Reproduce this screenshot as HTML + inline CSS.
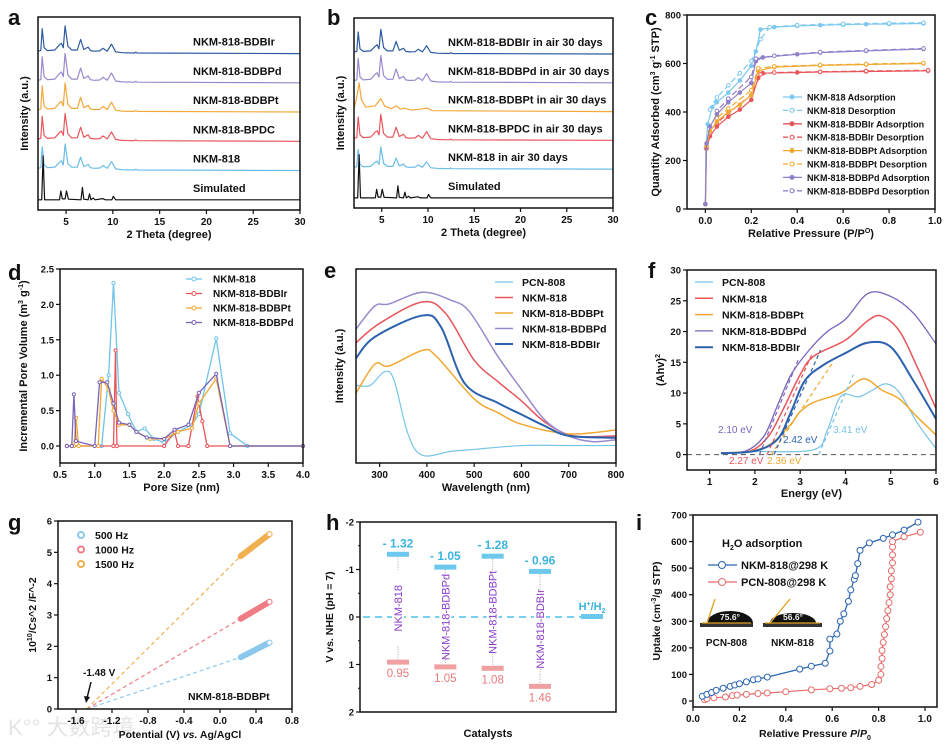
<!DOCTYPE html>
<html><head><meta charset="utf-8"><style>
body{margin:0;background:#fff}
svg{display:block;font-family:"Liberation Sans","Noto Sans CJK SC",sans-serif}
</style></head><body>
<svg id="fig" width="950" height="750" viewBox="0 0 950 750" xmlns="http://www.w3.org/2000/svg">
<text x="8" y="735" font-size="22" fill="#e4e4e4">K°° 大数跨境</text>
</svg>
<script>
// ---------- DATA ----------
const xrdMof=[[2.0,0.08],[2.3,0.1],[2.45,0.85],[2.65,0.2],[3.0,0.1],[3.8,0.12],[4.3,0.3],[4.5,0.35],[4.7,0.2],[4.9,0.95],[5.2,0.25],[5.6,0.12],[6.2,0.12],[6.55,0.48],[6.9,0.14],[7.35,0.22],[7.6,0.1],[8.0,0.08],[8.6,0.09],[8.95,0.18],[9.4,0.08],[9.85,0.32],[10.3,0.06],[11,0.03],[12.3,0.02],[12.45,0.05],[12.6,0.02],[30,0.0]];
const xrdSim=[[2.0,0],[2.4,0],[2.55,1.5],[2.7,0],[4.3,0],[4.45,0.3],[4.6,0.03],[4.9,0.03],[5.05,0.3],[5.25,0.02],[6.6,0],[6.75,0.42],[6.9,0.02],[7.35,0],[7.5,0.2],[7.65,0],[7.9,0.06],[8.1,0],[8.9,0.04],[9.2,0],[9.9,0],[10.05,0.12],[10.3,0],[30,0]];
const xrdBroad=[[2.0,0.1],[2.3,0.5],[2.55,1.0],[2.8,0.4],[3.3,0.15],[4.3,0.2],[4.9,0.45],[5.3,0.2],[6,0.1],[6.6,0.2],[7.0,0.08],[7.4,0.12],[8.2,0.05],[9.0,0.08],[9.9,0.12],[10.5,0.03],[30,0]];
const aNames=["NKM-818-BDBIr","NKM-818-BDBPd","NKM-818-BDBPt","NKM-818-BPDC","NKM-818","Simulated"];
const bNames=["NKM-818-BDBIr in air 30 days","NKM-818-BDBPd in air 30 days","NKM-818-BDBPt in air 30 days","NKM-818-BPDC in air 30 days","NKM-818 in air 30 days","Simulated"];
const aScale=[1.0,1.05,1.05,1.0,0.95,1.0];
const bScale=[0.9,1.0,1.0,0.95,0.8,1.0];
const xrdColors=["#2c5aa0","#9a88cc","#f2a93b","#e8575c","#6cbde8","#111"];
const xTicksA=[5,10,15,20,25,30];

const cNames=["NKM-818 Adsorption","NKM-818 Desorption","NKM-818-BDBIr Adsorption","NKM-818-BDBIr Desorption","NKM-818-BDBPt Adsorption","NKM-818-BDBPt Desorption","NKM-818-BDBPd Adsorption","NKM-818-BDBPd Desorption"];
const cNkmAds=[[0,20],[0.002,250],[0.01,350],[0.03,420],[0.05,440],[0.1,480],[0.15,530],[0.2,590],[0.22,650],[0.24,740],[0.3,750],[0.4,755],[0.5,758],[0.6,760],[0.7,762],[0.8,763],[0.95,765]];
const cNkmDes=[[0.95,768],[0.8,766],[0.6,763],[0.4,758],[0.28,750],[0.24,700],[0.2,610],[0.15,560],[0.1,510],[0.05,460],[0.02,410]];
const cIrAds=[[0,20],[0.005,250],[0.02,300],[0.05,340],[0.1,380],[0.15,410],[0.2,450],[0.23,540],[0.25,560],[0.4,563],[0.5,565],[0.7,567],[0.97,570]];
const cIrDes=[[0.97,572],[0.7,569],[0.5,566],[0.3,563],[0.24,555],[0.2,470],[0.1,395],[0.05,355]];
const cPtAds=[[0,20],[0.005,260],[0.02,320],[0.05,360],[0.1,400],[0.15,430],[0.2,470],[0.23,570],[0.3,585],[0.5,592],[0.7,596],[0.95,600]];
const cPtDes=[[0.95,602],[0.7,598],[0.5,594],[0.3,588],[0.23,580],[0.2,490],[0.1,415],[0.05,375]];
const cPdAds=[[0,20],[0.005,270],[0.02,340],[0.05,390],[0.1,440],[0.15,480],[0.2,520],[0.22,610],[0.25,625],[0.4,638],[0.5,645],[0.7,652],[0.95,660]];
const cPdDes=[[0.95,662],[0.7,654],[0.5,647],[0.3,632],[0.22,620],[0.2,545],[0.1,455],[0.05,405]];

const dNames=["NKM-818","NKM-818-BDBIr","NKM-818-BDBPt","NKM-818-BDBPd"];
const dNkm=[[0.6,0],[1.1,0],[1.2,1.0],[1.27,2.3],[1.35,0.75],[1.48,0.45],[1.6,0.2],[1.72,0.25],[1.85,0.1],[2.0,0.05],[2.2,0.2],[2.4,0.3],[2.5,0.45],[2.75,1.52],[2.95,0.18],[3.2,0],[4.0,0]];
const dIr=[[0.6,0],[1.27,0],[1.3,1.35],[1.32,0],[2.0,0],[2.15,0.2],[2.2,0],[2.35,0],[2.48,0.7],[2.55,0.35],[2.62,0],[4,0]];
const dPt=[[0.6,0],[0.7,0],[0.73,0.4],[0.77,0],[1.05,0],[1.1,0.95],[1.2,0.8],[1.27,0.5],[1.35,0.3],[1.5,0.3],[1.6,0.2],[1.8,0.1],[2.0,0.1],[2.2,0.2],[2.4,0.25],[2.5,0.6],[2.75,0.95],[2.95,0],[4,0]];
const dPd=[[0.6,0],[0.67,0],[0.7,0.73],[0.73,0.07],[1.0,0],[1.07,0.9],[1.18,0.9],[1.27,0.6],[1.35,0.33],[1.5,0.3],[1.6,0.2],[1.75,0.12],[2.0,0.1],[2.15,0.23],[2.35,0.3],[2.5,0.75],[2.75,1.02],[2.95,0],[4,0]];

const eNames=["PCN-808","NKM-818","NKM-818-BDBPt","NKM-818-BDBPd","NKM-818-BDBIr"];
const ePcn=[[250,40],[280,40],[310,47],[330,43],[360,15],[390,4],[450,6],[500,7],[600,9],[700,9],[800,9]];
const eNkm=[[250,62],[300,72],[390,83],[440,77],[500,53],[550,42],[600,32],[650,21],[710,14],[800,14]];
const ePt=[[250,36],[290,51],[320,50],[390,58],[420,55],[500,33],[550,26],[600,20],[700,15],[800,17]];
const ePd=[[250,69],[290,81],[320,82],[390,88],[450,84],[490,78],[550,55],[600,38],[650,22],[700,14],[750,11],[800,12]];
const eIr=[[250,54],[290,65],[390,76],[430,70],[480,41],[550,31],[600,25],[650,19],[700,14],[800,13]];

const fPcn=[[1.25,0.3],[2.0,0.5],[3.3,0.8],[3.6,4],[3.9,9.5],[4.3,9.4],[4.6,10.5],[4.9,11.5],[5.2,10],[5.6,5],[6,1]];
const fNkm=[[1.25,0.3],[1.9,0.6],[2.3,3],[2.6,7],[3.0,13],[3.3,16],[4.0,18.6],[4.5,21.8],[4.8,22.5],[5.2,20],[5.6,14],[6,7.5]];
const fPt=[[1.25,0.2],[2.0,0.7],[2.4,2],[2.8,5],[3.0,7],[3.3,8.5],[3.9,10],[4.4,12.3],[4.8,10.5],[5.2,9],[5.6,6],[6,3.2]];
const fPd=[[1.25,0.3],[1.8,0.6],[2.2,3],[2.5,8],[2.8,13],[3.2,17],[3.6,20],[4.0,22],[4.5,26.2],[5.0,25.7],[5.5,23],[6,18]];
const fIr=[[1.25,0.2],[2.0,0.6],[2.5,2.5],[2.8,7],[3.1,12],[3.5,14.5],[4.0,16.5],[4.5,18.2],[5.0,17.5],[5.5,12],[6,5.8]];
const fGaps=[2.10,2.27,2.36,2.42,3.41];
const fGapLabels=["2.10 eV","2.27 eV","2.36 eV","2.42 eV","3.41 eV"];

const gNames=["500 Hz","1000 Hz","1500 Hz"];
const gStart=[[0.23,1.65],[0.23,2.88],[0.23,4.88]];
const gEnd=[[0.55,2.12],[0.55,3.42],[0.55,5.58]];
const gIntercept=-1.48;

const hNames=["NKM-818","NKM-818-BDBPd","NKM-818-BDBPt","NKM-818-BDBIr"];
const hCB=[-1.32,-1.05,-1.28,-0.96];
const hVB=[0.95,1.05,1.08,1.46];
const hCBLabels=["- 1.32","- 1.05","- 1.28","- 0.96"];
const hVBLabels=["0.95","1.05","1.08","1.46"];

const iNkm=[[0.04,18],[0.06,25],[0.08,32],[0.1,40],[0.13,48],[0.16,55],[0.18,60],[0.2,65],[0.23,72],[0.26,80],[0.28,83],[0.32,90],[0.46,120],[0.51,131],[0.57,142],[0.59,188],[0.59,233],[0.62,252],[0.635,300],[0.65,328],[0.67,375],[0.68,418],[0.695,458],[0.7,472],[0.71,517],[0.72,567],[0.76,595],[0.82,612],[0.86,625],[0.91,643],[0.97,673]];
const iPcn=[[0.05,5],[0.06,9],[0.09,12],[0.14,15],[0.17,20],[0.19,22],[0.23,25],[0.28,28],[0.32,30],[0.4,35],[0.51,42],[0.59,46],[0.64,48],[0.68,50],[0.72,55],[0.77,62],[0.8,78],[0.81,100],[0.81,130],[0.815,160],[0.815,190],[0.82,220],[0.825,250],[0.83,280],[0.835,310],[0.84,340],[0.845,370],[0.85,400],[0.85,430],[0.855,460],[0.855,490],[0.86,520],[0.86,550],[0.86,580],[0.86,600],[0.91,618],[0.98,635]];

// ---------- HELPERS ----------
const NS='http://www.w3.org/2000/svg';
const svg=document.getElementById('fig');
function mk(tag,attrs,name,parent){
  const el=document.createElementNS(NS,tag);
  for(const k in attrs) el.setAttribute(k,attrs[k]);
  
  
  (parent||svg).appendChild(el);return el;
}
function tx(x,y,s,name,o){o=o||{};
  const el=mk('text',{x:x,y:y,'font-size':o.fs||10,'font-weight':o.fw||'bold',fill:o.fill||'#111','text-anchor':o.anchor||'start'},name);
  if(o.rot) el.setAttribute('transform','rotate('+o.rot+' '+x+' '+y+')');
  el.innerHTML=s;return el;}
function lin(d0,d1,r0,r1){return v=>r0+(v-d0)/(d1-d0)*(r1-r0);}
function frame(L,T,R,B,name){mk('rect',{x:L,y:T,width:R-L,height:B-T,fill:'none',stroke:'#111','stroke-width':1.5},name);}
function xt(sx,vals,labels,B,name){vals.forEach((v,i)=>{const x=sx(v);
  mk('line',{x1:x,y1:B,x2:x,y2:B+4,stroke:'#111','stroke-width':1.2},name+'-tick');
  tx(x,B+15,labels[i],name+'-label',{anchor:'middle'});});}
function yt(sy,vals,labels,L,name){vals.forEach((v,i)=>{const y=sy(v);
  mk('line',{x1:L-4,y1:y,x2:L,y2:y,stroke:'#111','stroke-width':1.2},name+'-tick');
  tx(L-6,y+3.5,labels[i],name+'-label',{anchor:'end',fs:9.5});});}
function ptsStr(p,sx,sy){return p.map(q=>sx(q[0]).toFixed(1)+','+sy(q[1]).toFixed(1)).join(' ');}
function pl(p,sx,sy,col,w,name,dash){const a={points:ptsStr(p,sx,sy),fill:'none',stroke:col,'stroke-width':w,'stroke-linejoin':'round'};if(dash)a['stroke-dasharray']=dash;return mk('polyline',a,name);}
function smooth(p,sx,sy,col,w,name){const P=p.map(q=>[sx(q[0]),sy(q[1])]);let d='M'+P[0][0]+','+P[0][1];
  for(let i=0;i<P.length-1;i++){const p0=P[Math.max(0,i-1)],p1=P[i],p2=P[i+1],p3=P[Math.min(P.length-1,i+2)];
   d+=' C'+(p1[0]+(p2[0]-p0[0])/6)+','+(p1[1]+(p2[1]-p0[1])/6)+' '+(p2[0]-(p3[0]-p1[0])/6)+','+(p2[1]-(p3[1]-p1[1])/6)+' '+p2[0]+','+p2[1];}
  return mk('path',{d:d,fill:'none',stroke:col,'stroke-width':w},name);}
function markers(p,sx,sy,col,r,fill,name){p.forEach(q=>mk('circle',{cx:sx(q[0]),cy:sy(q[1]),r:r,fill:fill?col:'#fff',stroke:col,'stroke-width':1},name));}
function letter(x,y,s){tx(x,y,s,'panel-label-'+s,{fs:22});}

// ---------- PANEL A & B ----------
function xrdPanel(L,T,R,B,names,scales,broadIdx,labX,pfx){
  const sx=lin(2,30,L,R), sy=lin(0,6.6,B,T);
  names.forEach((n,i)=>{const off=5.35-i;
    const base=(i===5)?xrdSim:(i===broadIdx?xrdBroad:xrdMof);
    const p=base.map(q=>[q[0],off+q[1]*scales[i]]);
    pl(p,sx,sy,xrdColors[i],1.2,pfx+'-trace-'+i);
    tx(labX,sy(off)-8,n,pfx+'-trace-label',{fs:11});});
  frame(L,T,R,B,pfx+'-plot-frame');
  xt(sx,xTicksA,xTicksA.map(String),B,pfx+'-x-tick');
  tx((L+R)/2,B+28,'2 Theta (degree)',pfx+'-x-axis-title',{anchor:'middle',fs:11});
  tx(L-10,(T+B)/2,'Intensity (a.u.)',pfx+'-y-axis-title',{anchor:'middle',fs:11,rot:-90});
}
xrdPanel(38,17,300,210,aNames,aScale,-1,193,'a');
xrdPanel(354,18,613,208,bNames,bScale,2,448,'b');
letter(8,25,'a');letter(327,25,'b');

// ---------- PANEL C ----------
(function(){const L=687,T=15,R=935,B=209;const sx=lin(-0.08,1.0,L,R),sy=lin(0,800,B,T);
  const ser=[cNkmAds,cNkmDes,cIrAds,cIrDes,cPtAds,cPtDes,cPdAds,cPdDes];
  const cols=["#7cc8ee","#7cc8ee","#e8555a","#e8555a","#f0a830","#f0a830","#9080c8","#9080c8"];
  ser.forEach((s,i)=>{const des=i%2===1;pl(s,sx,sy,cols[i],1.2,'c-series-'+i,des?'6,3':null);markers(s,sx,sy,cols[i],1.8,!des,'c-marker');});
  frame(L,T,R,B,'c-plot-frame');
  const xv=[0,0.2,0.4,0.6,0.8,1.0];xt(sx,xv,xv.map(v=>v.toFixed(1)),B,'c-x-tick');
  const yv=[0,200,400,600,800];yt(sy,yv,yv.map(String),L,'c-y-tick');
  tx((L+R)/2,B+28,'Relative Pressure (P/P<tspan font-size="7" dy="-4">O</tspan><tspan dy="4">)</tspan>','c-x-axis-title',{anchor:'middle',fs:11});
  tx(659,(T+B)/2,'Quantity Adsorbed (cm<tspan font-size="7" dy="-4">3</tspan><tspan dy="4"> g</tspan><tspan font-size="7" dy="-4">-1</tspan><tspan dy="4"> STP)</tspan>','c-y-axis-title',{anchor:'middle',fs:11,rot:-90});
  cNames.forEach((n,i)=>{const y=97+i*13.4;const des=i%2===1;
    const a={x1:783,y1:y,x2:802,y2:y,stroke:cols[i],'stroke-width':1.3};if(des)a['stroke-dasharray']='5,2';mk('line',a,'c-legend-line');
    mk('circle',{cx:792,cy:y,r:2,fill:des?'#fff':cols[i],stroke:cols[i]},'c-legend-marker');
    tx(807,y+3.5,n,'c-legend-entry',{fs:9});});
  letter(645,25,'c');})();

// ---------- PANEL D ----------
(function(){const L=60,T=269,R=303,B=463;const sx=lin(0.5,4.0,L,R),sy=lin(-0.24,2.5,B,T);
  const ser=[dNkm,dIr,dPt,dPd];const cols=["#70c4ea","#e8555a","#f0a830","#7a64b8"];
  ser.forEach((s,i)=>{pl(s,sx,sy,cols[i],1.3,'d-series-'+dNames[i]);markers(s,sx,sy,cols[i],1.6,false,'d-marker');});
  frame(L,T,R,B,'d-plot-frame');
  const xv=[0.5,1,1.5,2,2.5,3,3.5,4];xt(sx,xv,xv.map(v=>v.toFixed(1)),B,'d-x-tick');
  const yv=[0,0.5,1,1.5,2,2.5];yt(sy,yv,yv.map(v=>v.toFixed(1)),L,'d-y-tick');
  tx((L+R)/2,B+28,'Pore Size (nm)','d-x-axis-title',{anchor:'middle',fs:11});
  tx(27,(T+B)/2,'Incremental Pore Volume (m<tspan font-size="7" dy="-4">3</tspan><tspan dy="4"> g</tspan><tspan font-size="7" dy="-4">-1</tspan><tspan dy="4">)</tspan>','d-y-axis-title',{anchor:'middle',fs:11,rot:-90});
  dNames.forEach((n,i)=>{const y=279+i*14.5;mk('line',{x1:186,y1:y,x2:202,y2:y,stroke:cols[i],'stroke-width':1.3},'d-legend-line');
    mk('circle',{cx:194,cy:y,r:2,fill:'#fff',stroke:cols[i]},'d-legend-marker');tx(213,y+3.5,n,'d-legend-entry',{fs:10});});
  letter(8,280,'d');})();

// ---------- PANEL E ----------
(function(){const L=356,T=269,R=616,B=463;const sx=lin(250,800,L,R),sy=lin(0,100,B,T);
  const ser=[ePcn,eNkm,ePt,ePd,eIr];const cols=["#78c4e6","#e8555a","#f0a830","#9a88cc","#2c62ae"];const ws=[1.2,1.5,1.5,1.5,2];
  ser.forEach((s,i)=>smooth(s,sx,sy,cols[i],ws[i],'e-series-'+eNames[i]));
  frame(L,T,R,B,'e-plot-frame');
  const xv=[300,400,500,600,700,800];xt(sx,xv,xv.map(String),B,'e-x-tick');
  tx((L+R)/2,B+28,'Wavelength (nm)','e-x-axis-title',{anchor:'middle',fs:11});
  tx(343,(T+B)/2,'Intensity (a.u.)','e-y-axis-title',{anchor:'middle',fs:11,rot:-90});
  eNames.forEach((n,i)=>{const y=282+i*15.5;mk('line',{x1:495,y1:y,x2:513,y2:y,stroke:cols[i],'stroke-width':ws[i]},'e-legend-line');tx(522,y+4,n,'e-legend-entry',{fs:10.5});});
  letter(324,278,'e');})();

// ---------- PANEL F ----------
(function(){const L=687,T=270,R=936,B=470;const sx=lin(0.5,6,L,R),sy=lin(-2.5,30,B,T);
  mk('line',{x1:L,y1:sy(0),x2:R,y2:sy(0),stroke:'#555','stroke-width':1,'stroke-dasharray':'5,4'},'f-zero-line');
  const ser=[fPcn,fNkm,fPt,fPd,fIr];const cols=["#78c4e6","#e8555a","#f0a830","#7a64b8","#2c62ae"];const ws=[1.2,1.5,1.5,1.3,2];
  ser.forEach((s,i)=>smooth(s,sx,sy,cols[i],ws[i],'f-series-'+eNames[i]));
  const tanCols=["#7a64b8","#e8555a","#f0a830","#2c62ae","#78c4e6"];const tanTop=[15.5,16.5,15,17,13];const tanSlope=[18,16.5,11,16.5,17];
  fGaps.forEach((g,i)=>{const x2=g+tanTop[i]/tanSlope[i];mk('line',{x1:sx(g),y1:sy(0),x2:sx(x2),y2:sy(tanTop[i]),stroke:tanCols[i],'stroke-width':1.2,'stroke-dasharray':'4,3'},'f-tangent-line');});
  frame(L,T,R,B,'f-plot-frame');
  const xv=[1,2,3,4,5,6];xt(sx,xv,xv.map(String),B,'f-x-tick');
  const yv=[0,5,10,15,20,25,30];yt(sy,yv,yv.map(String),L,'f-y-tick');
  tx((L+R)/2,B+27,'Energy (eV)','f-x-axis-title',{anchor:'middle',fs:11});
  tx(664,(T+B)/2,'(Ahv)<tspan font-size="7" dy="-4">2</tspan>','f-y-axis-title',{anchor:'middle',fs:11,rot:-90});
  const lp=[[718,433],[729,464],[767,464],[783,443],[833,433]];const lc=["#7a64b8","#e8555a","#f0a830","#2c62ae","#78c4e6"];
  fGapLabels.forEach((s,i)=>tx(lp[i][0],lp[i][1],s,'f-gap-label',{fs:10,fw:'normal',fill:lc[i]}));
  eNames.forEach((n,i)=>{const y=282+i*16.3;mk('line',{x1:695,y1:y,x2:713,y2:y,stroke:cols[i],'stroke-width':ws[i]},'f-legend-line');tx(722,y+4,n,'f-legend-entry',{fs:10.5});});
  letter(648,278,'f');})();

// ---------- PANEL G ----------
(function(){const L=58,T=521,R=292,B=709;const sx=lin(-1.8,0.8,L,R),sy=lin(0,6,B,T);
  const cols=["#8cc8ee","#ee7c84","#f0b050"];
  gNames.forEach((n,i)=>{mk('line',{x1:sx(gIntercept),y1:sy(0),x2:sx(gStart[i][0]),y2:sy(gStart[i][1]),stroke:cols[i],'stroke-width':1.2,'stroke-dasharray':'4,3'},'g-fit-line');
    mk('line',{x1:sx(gStart[i][0]),y1:sy(gStart[i][1]),x2:sx(gEnd[i][0]),y2:sy(gEnd[i][1]),stroke:cols[i],'stroke-width':6,'stroke-linecap':'round'},'g-data-band-'+n);
    mk('circle',{cx:sx(gEnd[i][0]),cy:sy(gEnd[i][1]),r:2.5,fill:'#fff',stroke:cols[i]},'g-end-marker');});
  frame(L,T,R,B,'g-plot-frame');
  const xv=[-1.6,-1.2,-0.8,-0.4,0,0.4,0.8];xt(sx,xv,xv.map(v=>v.toFixed(1)),B,'g-x-tick');
  const yv=[0,1,2,3,4,5,6];yt(sy,yv,yv.map(String),L,'g-y-tick');
  tx((L+R)/2+5,B+29,'Potential (V) <tspan font-style="italic">vs.</tspan> Ag/AgCl','g-x-axis-title',{anchor:'middle',fs:10.5});
  tx(36,(T+B)/2,'10<tspan font-size="7" dy="-4">10</tspan><tspan dy="4">/Cs^2 /F^-2</tspan>','g-y-axis-title',{anchor:'middle',fs:10.5,rot:-90});
  gNames.forEach((n,i)=>{const y=535+i*14.5;mk('circle',{cx:81,cy:y,r:3,fill:'#fff',stroke:cols[i],'stroke-width':2},'g-legend-marker');tx(95,y+4,n,'g-legend-entry',{fs:10.5});});
  tx(83,676,'-1.48 V','g-intercept-label',{fs:10});
  mk('line',{x1:91,y1:682,x2:87,y2:698,stroke:'#111','stroke-width':1.5},'g-arrow');
  mk('polygon',{points:'84,696 86,703 90,697',fill:'#111'},'g-arrow-head');
  tx(188,700,'NKM-818-BDBPt','g-sample-label',{fs:10.5});
  letter(8,530,'g');})();

// ---------- PANEL H ----------
(function(){const L=360,T=522,R=616,B=712;const sy=lin(-2,2,T,B),sx=lin(1,4,398,540);
  mk('line',{x1:L+3,y1:sy(0),x2:584,y2:sy(0),stroke:'#4cc0e6','stroke-width':1.6,'stroke-dasharray':'7,5'},'h-zero-line');
  mk('rect',{x:sx(5.1)-11,y:sy(0)-3,width:22,height:5,fill:'#6cc8ec'},'h-h2-bar');
  tx(sx(5.1),sy(0)-7,'H<tspan font-size="7" dy="-4">+</tspan><tspan dy="4">/H</tspan><tspan font-size="7" dy="3">2</tspan>','h-h2-label',{anchor:'middle',fs:11,fill:'#3bb3e0'});
  hNames.forEach((n,i)=>{const x=sx(i+1);
    mk('line',{x1:x,y1:sy(hCB[i]),x2:x,y2:sy(hVB[i]),stroke:'#aaa','stroke-width':1,'stroke-dasharray':'1,1.5'},'h-connector');
    mk('rect',{x:x-11,y:sy(hCB[i])-2.5,width:22,height:5,fill:'#6cc8ec'},'h-cb-bar');
    mk('rect',{x:x-11,y:sy(hVB[i])-2.5,width:22,height:5,fill:'#f0a0a0'},'h-vb-bar');
    tx(x,sy(hCB[i])-7,hCBLabels[i],'h-cb-label',{anchor:'middle',fs:12,fill:'#3bb3e0'});
    tx(x,sy(hVB[i])+15,hVBLabels[i],'h-vb-label',{anchor:'middle',fs:11.5,fw:'normal',fill:'#e8787c'});
    const mid=(hCB[i]+hVB[i])/2;
    mk('rect',{x:x-6,y:sy(mid)-38,width:12,height:76,fill:'#fff'},'h-label-bg');
    tx(x+4,sy(mid),n,'h-catalyst-label',{anchor:'middle',fs:11,fw:'normal',fill:'#8a3cc8',rot:-90});});
  frame(L,T,R,B,'h-plot-frame');
  const yv=[-2,-1,0,1,2];yt(sy,yv,yv.map(String),L,'h-y-tick');
  [-1.5,-0.5,0.5,1.5].forEach(v=>mk('line',{x1:L-2,y1:sy(v),x2:L,y2:sy(v),stroke:'#111'},'h-minor-tick'));
  tx((L+R)/2,737,'Catalysts','h-x-axis-title',{anchor:'middle',fs:11});
  tx(333,(T+B)/2,'V vs. NHE (pH = 7)','h-y-axis-title',{anchor:'middle',fs:10.5,rot:-90});
  letter(326,530,'h');})();

// ---------- PANEL I ----------
(function(){const L=693,T=515,R=937,B=707;const sx=lin(0,1,693,925),sy=lin(0,700,701,515);
  pl(iPcn,sx,sy,'#e86a6a',1.2,'i-series-PCN-808');markers(iPcn,sx,sy,'#e86a6a',3,false,'i-marker');
  pl(iNkm,sx,sy,'#2a64b0',1.3,'i-series-NKM-818');markers(iNkm,sx,sy,'#2a64b0',3,false,'i-marker');
  frame(L,T,R,B,'i-plot-frame');
  const xv=[0,0.2,0.4,0.6,0.8,1.0];xt(sx,xv,xv.map(v=>v.toFixed(1)),B,'i-x-tick');
  const yv=[0,100,200,300,400,500,600,700];yt(sy,yv,yv.map(String),L,'i-y-tick');
  tx((L+R)/2,737,'Relative Pressure <tspan font-style="italic">P</tspan>/<tspan font-style="italic">P</tspan><tspan font-size="7" dy="3">0</tspan>','i-x-axis-title',{anchor:'middle',fs:10.5});
  tx(660,(T+B)/2,'Uptake (cm<tspan font-size="7" dy="-4">-3</tspan><tspan dy="4">/g STP)</tspan>','i-y-axis-title',{anchor:'middle',fs:10.5,rot:-90});
  tx(722,547,'H<tspan font-size="7" dy="3">2</tspan><tspan dy="-3">O adsorption</tspan>','i-legend-title',{fs:11});
  [['NKM-818@298 K','#2a64b0'],['PCN-808@298 K','#e86a6a']].forEach((e,i)=>{const y=565+i*17;
    mk('line',{x1:708,y1:y,x2:737,y2:y,stroke:e[1],'stroke-width':1.3},'i-legend-line');
    mk('circle',{cx:722,cy:y,r:3.5,fill:'#fff',stroke:e[1]},'i-legend-marker');tx(741,y+4,e[0],'i-legend-entry',{fs:11});});
  [[730,23,12,'75.6°','PCN-808',700,753],[793,23,10,'56.6°','NKM-818',763,822]].forEach((d,i)=>{
    mk('rect',{x:d[5],y:623,width:d[6]-d[5],height:4,fill:'#333'},'i-droplet-base');
    mk('path',{d:'M'+(d[0]-d[1])+',623 A'+d[1]+','+d[2]+' 0 0 1 '+(d[0]+d[1])+',623 Z',fill:'#111'},'i-droplet');
    mk('line',{x1:d[5]+2,y1:623,x2:d[6]-2,y2:623,stroke:'#e0a020','stroke-width':1.3},'i-contact-line');
    tx(d[0],620,d[3],'i-contact-angle',{anchor:'middle',fs:8.5,fill:'#eee'});
    tx((d[5]+d[6])/2,646,d[4],'i-droplet-label',{anchor:'middle',fs:10});});
  mk('line',{x1:707,y1:623,x2:715,y2:599,stroke:'#e0a020','stroke-width':1.3},'i-tangent');
  mk('line',{x1:770,y1:623,x2:790,y2:599,stroke:'#e0a020','stroke-width':1.3},'i-tangent');
  letter(636,530,'i');})();
</script>
</body></html>
